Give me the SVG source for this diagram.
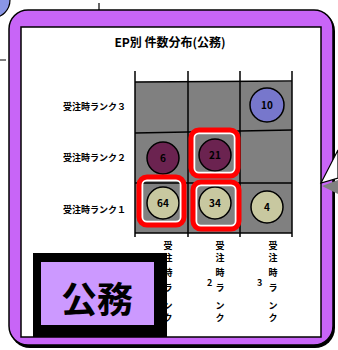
<svg xmlns="http://www.w3.org/2000/svg" width="338" height="350" viewBox="0 0 338 350">
<style>
.jp{font-family:"Noto Sans CJK JP","Noto Sans",sans-serif;font-weight:bold;fill:#000}
.lbl{font-size:9px}
.num{font-size:10px;text-anchor:middle}
.gl{stroke:#000;stroke-width:1.5;fill:none}
.hl{fill:none;stroke:#ff0000;stroke-width:5}
.halo{fill:none;stroke:#fff;stroke-width:2.5}
</style>
<rect width="338" height="350" fill="#fff"/>
<!-- background bits -->
<circle cx="-8" cy="0" r="18" fill="#8a96e6" stroke="#000" stroke-width="1.2"/>
<line x1="99" y1="3" x2="99" y2="10" stroke="#000" stroke-width="1.2"/>
<line x1="0" y1="60" x2="6" y2="60" stroke="#000" stroke-width="1"/>
<!-- frame -->
<g id="frame">
<rect x="10" y="11" width="325" height="337" rx="20" fill="#000"/>
<rect x="9" y="10" width="324" height="335" rx="19" fill="#c865f7" stroke="#000" stroke-width="1.5"/>
<rect x="21" y="27" width="300" height="310" fill="#fff" stroke="#000" stroke-width="1.5"/>
</g>
<polygon points="322,186 338,180 338,194" fill="#808080"/>
<polygon points="321,183 338,150 338,178" fill="#fff" stroke="#000" stroke-width="1.2"/>
<text class="jp" x="170" y="47" font-size="12" text-anchor="middle">EP別 件数分布(公務)</text>
<!-- grid -->
<g id="grid">
<rect x="135" y="82" width="157" height="151" fill="#808080"/>
<line class="gl" x1="135" y1="71" x2="135" y2="237"/>
<line class="gl" x1="188" y1="71" x2="188" y2="237"/>
<line class="gl" x1="240" y1="71" x2="240" y2="237"/>
<line class="gl" x1="292" y1="71" x2="292" y2="237"/>
<line class="gl" x1="135" y1="82" x2="292" y2="81"/>
<line class="gl" x1="135" y1="133" x2="292" y2="130"/>
<line class="gl" x1="135" y1="183" x2="292" y2="183"/>
<line class="gl" x1="135" y1="233" x2="292" y2="233"/>
</g>
<g id="n10"><circle cx="267" cy="105" r="17" fill="#7777cc" stroke="#000" stroke-width="1.5"/><text class="jp num" x="267" y="109">10</text></g>
<g id="n6"><circle cx="163" cy="158" r="16" fill="#6b2350" stroke="#000" stroke-width="1.5"/><text class="jp num" x="163" y="162">6</text></g>
<g id="n21"><circle cx="215" cy="155" r="16" fill="#6b2350" stroke="#000" stroke-width="1.5"/><text class="jp num" x="215" y="159">21</text></g>
<g id="n64"><circle cx="163" cy="203" r="16" fill="#c8c8a0" stroke="#000" stroke-width="1.5"/><text class="jp num" x="163" y="207">64</text></g>
<g id="n34"><circle cx="215" cy="203" r="16" fill="#c8c8a0" stroke="#000" stroke-width="1.5"/><text class="jp num" x="215" y="207">34</text></g>
<g id="n4"><circle cx="267" cy="207" r="16" fill="#c8c8a0" stroke="#000" stroke-width="1.5"/><text class="jp num" x="267" y="211">4</text></g>
<!-- highlights -->
<g id="highlights">
<rect class="halo" x="194" y="133" width="41" height="40" rx="5"/>
<rect class="hl" x="191" y="130" width="47" height="46" rx="8"/>
<rect class="halo" x="142" y="180" width="39" height="42" rx="5"/>
<rect class="hl" x="139" y="177" width="45" height="48" rx="8"/>
<rect class="halo" x="196" y="185" width="40" height="41" rx="5"/>
<rect class="hl" x="193" y="182" width="46" height="47" rx="8"/>
</g>
<!-- row labels -->
<text class="jp lbl" x="126" y="110" text-anchor="end">受注時ランク３</text>
<text class="jp lbl" x="126" y="161" text-anchor="end">受注時ランク２</text>
<text class="jp lbl" x="126" y="213" text-anchor="end">受注時ランク１</text>
<!-- column labels -->
<text class="jp lbl" text-anchor="middle"><tspan x="168" y="249">受</tspan><tspan x="168" y="261">注</tspan><tspan x="168" y="276">時</tspan><tspan x="168" y="291">ラ</tspan><tspan x="168" y="309">ン</tspan><tspan x="168" y="321">ク</tspan></text>
<text class="jp lbl" text-anchor="middle"><tspan x="220" y="249">受</tspan><tspan x="220" y="261">注</tspan><tspan x="220" y="276">時</tspan><tspan x="220" y="291">ラ</tspan><tspan x="220" y="309">ン</tspan><tspan x="220" y="321">ク</tspan></text>
<text class="jp lbl" x="207" y="286" font-size="7">2</text>
<text class="jp lbl" text-anchor="middle"><tspan x="273" y="249">受</tspan><tspan x="273" y="261">注</tspan><tspan x="273" y="276">時</tspan><tspan x="273" y="291">ラ</tspan><tspan x="273" y="309">ン</tspan><tspan x="273" y="321">ク</tspan></text>
<text class="jp lbl" x="257" y="286" font-size="7">3</text>
<!-- 公務 box -->
<g id="koumu">
<rect x="33" y="253" width="134" height="84" fill="#000"/>
<rect x="41" y="262" width="113" height="63" fill="#cc99ff"/>
<text class="jp" x="97" y="313" font-size="36" text-anchor="middle">公務</text>
</g>
</svg>
